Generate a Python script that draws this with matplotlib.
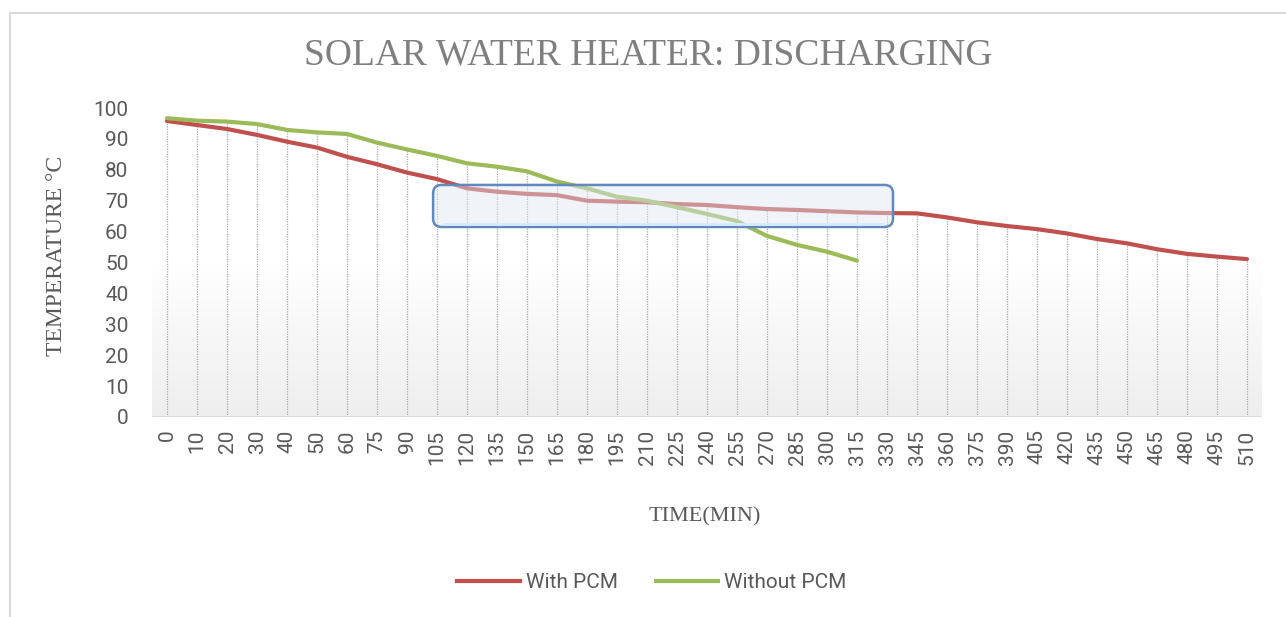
import numpy as np
import matplotlib
matplotlib.use("Agg")
import matplotlib.pyplot as plt
from matplotlib.patches import FancyBboxPatch, Rectangle
from matplotlib.lines import Line2D

# ---- data ----
time_min = [0, 10, 20, 30, 40, 50, 60, 75, 90, 105, 120, 135, 150, 165, 180, 195,
            210, 225, 240, 255, 270, 285, 300, 315, 330, 345, 360, 375, 390, 405,
            420, 435, 450, 465, 480, 495, 510]
with_pcm = [95.8, 94.5, 93.2, 91.3, 89.1, 87.2, 84.2, 81.8, 79.1, 77.0, 74.0, 72.9,
            72.2, 71.8, 70.0, 69.7, 69.5, 68.9, 68.6, 67.9, 67.3, 67.0, 66.6, 66.2,
            66.0, 65.9, 64.6, 63.0, 61.8, 60.8, 59.4, 57.6, 56.2, 54.3, 52.8, 51.9, 51.1]
without_pcm = [96.7, 95.9, 95.6, 94.8, 92.9, 92.1, 91.6, 88.8, 86.6, 84.5, 82.1, 81.0,
               79.5, 76.2, 74.0, 71.3, 70.0, 67.9, 65.7, 63.4, 58.6, 55.7, 53.5, 50.6]
y_ticks = list(range(0, 101, 10))
# highlight box (category-index / temperature units)
box_x = (8.87, 24.2)
box_y = (61.5, 75.1)

RED = "#C0504D"
GREEN = "#9BBB59"

fig = plt.figure(figsize=(12.86, 6.17), dpi=100)
ax = fig.add_axes([152/1286, 1-417/617, 1110/1286, 309/617])

n = len(time_min)
xi = np.arange(n)
xg = np.arange(len(without_pcm))

ax.set_xlim(-0.5, n - 0.5)
ax.set_ylim(0, 100)

# background gradient: white at top, light grey at bottom
grad = np.linspace(0.0, 1.0, 256).reshape(-1, 1)
ax.imshow(grad, extent=[-0.5, n - 0.5, 0, 100], aspect="auto",
          cmap=matplotlib.colors.LinearSegmentedColormap.from_list("g", ["#ffffff", "#ffffff", "#eeeeee"]),
          vmin=0, vmax=1, zorder=0, origin="upper")

# drop lines
tops = [max(with_pcm[i], without_pcm[i]) if i < len(without_pcm) else with_pcm[i] for i in range(n)]
ax.vlines(xi, 0, tops, colors="#aaaaaa", linestyles=(0, (1, 1)), linewidth=0.9, zorder=1)

ax.plot(xi, with_pcm, color=RED, lw=3.0, solid_capstyle="round", zorder=3)
ax.plot(xg, without_pcm, color=GREEN, lw=3.0, solid_capstyle="round", zorder=3)

# floor line
ax.axhline(0, color="#d9d9d9", lw=2.0, zorder=2)

# highlight box
xr = ax.get_xlim(); yr = ax.get_ylim()
px_x = 1110 / (xr[1] - xr[0]); px_y = 309 / (yr[1] - yr[0])
aspect = px_x / px_y
box = FancyBboxPatch((box_x[0], box_y[0]), box_x[1] - box_x[0], box_y[1] - box_y[0],
                     boxstyle="round,pad=0,rounding_size=0.28", mutation_aspect=aspect,
                     facecolor="#dfe6f1", edgecolor="none", alpha=0.45, zorder=4)
ax.add_patch(box)
box2 = FancyBboxPatch((box_x[0], box_y[0]), box_x[1] - box_x[0], box_y[1] - box_y[0],
                      boxstyle="round,pad=0,rounding_size=0.28", mutation_aspect=aspect,
                      facecolor="none", edgecolor="#6288c0", lw=1.8, zorder=5)
ax.add_patch(box2)
ax.plot([box_x[0] + 0.35, box_x[1] - 0.35], [box_y[0] + 0.9, box_y[0] + 0.9],
        color="#d4ebff", lw=2.0, zorder=5)

for s in ax.spines.values():
    s.set_visible(False)
ax.set_xticks(xi)
ax.set_xticklabels([str(t) for t in time_min], rotation=90, fontsize=15,
                   color="#595959", family="Roboto")
ax.set_yticks(y_ticks)
ax.set_yticklabels([str(t) for t in y_ticks], fontsize=15, color="#595959", family="Roboto")
ax.tick_params(axis="both", length=0)
ax.tick_params(axis="y", pad=17)
ax.tick_params(axis="x", pad=9)

# texts
fig.text(648/1286, 1 - 55/617, "SOLAR WATER HEATER: DISCHARGING", ha="center", va="center",
         fontsize=27, color="#7f7f7f", family="Liberation Serif")
fig.text(57/1286, 1 - 256/617, "TEMPERATURE °C", ha="center", va="center", rotation=90,
         fontsize=17, color="#595959", family="Liberation Serif")
fig.text(705/1286, 1 - 517/617, "TIME(MIN)", ha="center", va="center",
         fontsize=16, color="#595959", family="Liberation Serif")

handles = [Line2D([], [], color=RED, lw=3.0), Line2D([], [], color=GREEN, lw=3.0)]
fig.legend(handles, ["With PCM", "Without PCM"], loc="center", bbox_to_anchor=(0.507, 1 - 583/617),
           ncol=2, frameon=False, prop={"family": "Roboto", "size": 15}, labelcolor="#595959",
           handlelength=3.0, handletextpad=0.3, columnspacing=1.8)

# chart border
fig.add_artist(Rectangle((10/1286, -0.05), 1.2, 1 - 13/617 + 0.05, transform=fig.transFigure,
                         fill=False, edgecolor="#d9d9d9", lw=1.5))

fig.savefig("out.png", dpi=100)
